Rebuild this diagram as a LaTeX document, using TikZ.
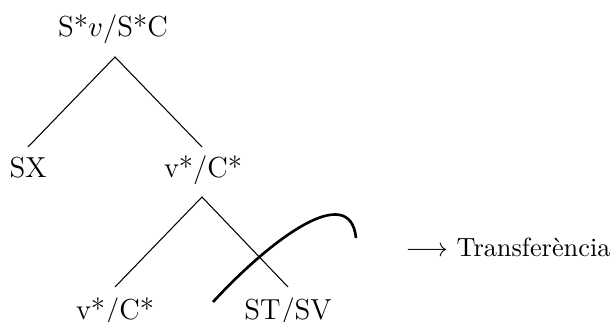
\documentclass[tikz,border=0pt]{standalone}
\begin{document}
\begin{tikzpicture}[x=0.38pt,y=-0.38pt,
  lbl/.style={anchor=base,inner sep=0pt,font=\fontsize{11}{13}\selectfont},
  branch/.style={line width=0.4pt},
  bold curve/.style={line width=1pt}]
\useasboundingbox (0,0) rectangle (613,322);
% labels
\node[lbl] (root) at (113,37) {S*$v$/S*C};
\node[lbl] (sx) at (28,178) {SX};
\node[lbl] (vc) at (203,178) {v*/C*};
\node[lbl] (vc2) at (115,320) {v*/C*};
\node[lbl] (stsv) at (288,320) {ST/SV};
\node[anchor=base west,inner sep=0pt] (tr) at (405,257) {$\longrightarrow$ Transferència};
% branch points
\coordinate (a1) at (115,57);
\coordinate (l1) at (28,147);
\coordinate (r1) at (202,147);
\coordinate (a2) at (202,197);
\coordinate (l2) at (115,287);
\coordinate (r2) at (288,287);
\draw[branch] (l1) -- (a1) -- (r1);
\draw[branch] (l2) -- (a2) -- (r2);
% cut curve
\coordinate (cs) at (213,302);
\coordinate (ce) at (356,238);
\draw[bold curve] (cs) .. controls (270,240) and (350,180) .. (ce);
\end{tikzpicture}
\end{document}
